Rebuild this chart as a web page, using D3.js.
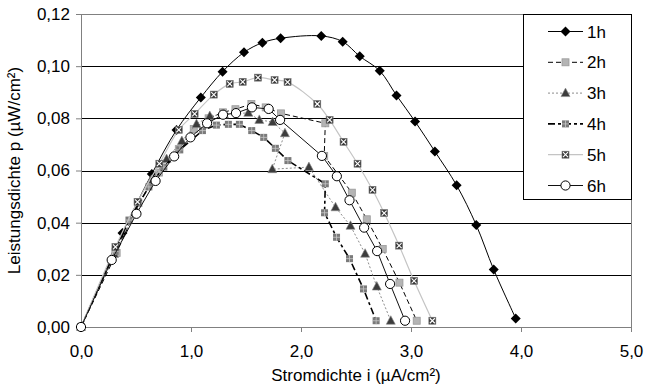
<!DOCTYPE html>
<html>
<head>
<meta charset="utf-8">
<script src="https://cdn.jsdelivr.net/npm/d3@7"></script>
<style>
  body { margin: 0; background: #fff; }
  svg text { font-family: "Liberation Sans", Arial, sans-serif; fill: #000; }
</style>
</head>
<body>
<div id="chart"></div>
<script>
// Leistungsdichte vs. Stromdichte, Messungen nach 1h..6h
var seriesNames = ['1h', '2h', '3h', '4h', '5h', '6h'];

var x1h = [0, 0.377, 0.644, 0.868, 1.089, 1.287, 1.482, 1.649, 1.815, 2.184, 2.379, 2.534, 2.716, 2.868, 3.037, 3.217, 3.415, 3.593, 3.752, 3.952];
var y1h = [0, 0.0360, 0.0587, 0.0755, 0.0880, 0.0979, 0.1053, 0.1090, 0.1107, 0.1116, 0.1094, 0.1038, 0.0982, 0.0888, 0.0788, 0.0673, 0.0543, 0.0391, 0.0220, 0.0033];

var x2h = [0, 0.324, 0.522, 0.708, 0.889, 1.025, 1.160, 1.291, 1.404, 1.549, 1.679, 1.818, 2.221, 2.211, 2.462, 2.598, 2.743, 2.895, 3.052];
var y2h = [0, 0.0284, 0.0475, 0.0592, 0.0682, 0.0759, 0.0800, 0.0823, 0.0835, 0.0855, 0.0842, 0.0819, 0.0781, 0.0656, 0.0515, 0.0413, 0.0299, 0.0170, 0.0024];

var x3h = [0, 0.300, 0.500, 0.641, 0.778, 0.917, 1.050, 1.171, 1.300, 1.521, 1.621, 1.742, 1.854, 1.739, 2.072, 2.314, 2.450, 2.583, 2.689, 2.816];
var y3h = [0, 0.0280, 0.0450, 0.0564, 0.0644, 0.0713, 0.0778, 0.0809, 0.0815, 0.0821, 0.0794, 0.0786, 0.0743, 0.0605, 0.0613, 0.0459, 0.0388, 0.0281, 0.0155, 0.0024];

var x4h = [0, 0.310, 0.436, 0.617, 0.753, 0.898, 1.104, 1.231, 1.340, 1.440, 1.552, 1.661, 1.767, 1.881, 2.221, 2.214, 2.323, 2.441, 2.568, 2.683];
var y4h = [0, 0.0290, 0.0410, 0.0537, 0.0613, 0.0679, 0.0753, 0.0774, 0.0777, 0.0777, 0.0753, 0.0727, 0.0685, 0.0638, 0.0549, 0.0438, 0.0344, 0.0262, 0.0146, 0.0024];

var x5h = [0, 0.313, 0.514, 0.712, 0.889, 1.033, 1.207, 1.352, 1.470, 1.609, 1.760, 1.878, 2.148, 2.260, 2.387, 2.514, 2.650, 2.756, 2.892, 3.028, 3.194];
var y5h = [0, 0.0307, 0.0480, 0.0626, 0.0756, 0.0817, 0.0891, 0.0932, 0.0940, 0.0956, 0.0947, 0.0939, 0.0855, 0.0794, 0.0710, 0.0626, 0.0526, 0.0437, 0.0312, 0.0177, 0.0024];

var x6h = [0, 0.279, 0.504, 0.678, 0.847, 0.995, 1.146, 1.291, 1.409, 1.554, 1.706, 1.810, 2.190, 2.326, 2.441, 2.574, 2.692, 2.810, 2.946];
var y6h = [0, 0.0257, 0.0434, 0.0560, 0.0654, 0.0727, 0.0781, 0.0814, 0.0820, 0.0842, 0.0836, 0.0794, 0.0656, 0.0578, 0.0486, 0.0381, 0.0291, 0.0165, 0.0024];

var xTicks = [0, 1, 2, 3, 4, 5];
var yTicks = [0, 0.02, 0.04, 0.06, 0.08, 0.10, 0.12];
var xTitle = 'Stromdichte i (µA/cm²)';
var yTitle = 'Leistungsdichte p (µW/cm²)';

var xs = [x1h, x2h, x3h, x4h, x5h, x6h];
var ys = [y1h, y2h, y3h, y4h, y5h, y6h];

// look of each series: line + marker (1h and 5h are smoothed like in the original)
var styles = {
  '1h': { stroke: '#000', width: 1, dash: null, marker: 'diamond', smooth: true },
  '2h': { stroke: '#000', width: 1, dash: '5,3', marker: 'square' },
  '3h': { stroke: '#8c8c8c', width: 1, dash: '2,2', marker: 'triangle' },
  '4h': { stroke: '#000', width: 1.6, dash: '7,3,3,3', marker: 'grid' },
  '5h': { stroke: '#c4c4c4', width: 1.2, dash: null, marker: 'cross', smooth: true },
  '6h': { stroke: '#111', width: 1, dash: null, marker: 'circle' }
};

var W = 645, H = 391;
var margin = { top: 14, right: 14, bottom: 64, left: 81 };
var width = W - margin.left - margin.right,
    height = H - margin.top - margin.bottom;

var svg = d3.select('#chart').append('svg')
  .attr('width', W)
  .attr('height', H);

var g = svg.append('g').attr('transform', 'translate(' + margin.left + ',' + margin.top + ')');

var x = d3.scaleLinear().domain([0, 5]).range([0, width]);
var y = d3.scaleLinear().domain([0, 0.12]).range([height, 0]);

var comma = function(f) { return function(d) { return d3.format(f)(d).replace('.', ','); }; };

// gridlines
g.selectAll('.grid').data(yTicks.filter(function(d) { return d > 0 && d < 0.12; }))
  .enter().append('line')
  .attr('x1', 0).attr('x2', width)
  .attr('y1', function(d) { return Math.round(y(d)) + 0.5; })
  .attr('y2', function(d) { return Math.round(y(d)) + 0.5; })
  .attr('stroke', '#000').attr('stroke-width', 1);

// plot frame top/right
g.append('line').attr('x1', 0).attr('x2', width).attr('y1', 0.5).attr('y2', 0.5)
  .attr('stroke', '#808080');
g.append('line').attr('x1', width + 0.5).attr('x2', width + 0.5).attr('y1', 0).attr('y2', height)
  .attr('stroke', '#808080');

// axes
var xAxis = g.append('g').attr('transform', 'translate(0,' + height + ')')
  .call(d3.axisBottom(x).tickValues(xTicks).tickFormat(comma('.1f')).tickSize(5).tickPadding(13));
var yAxis = g.append('g')
  .call(d3.axisLeft(y).tickValues(yTicks).tickFormat(comma('.2f')).tickSize(5).tickPadding(6));
[xAxis, yAxis].forEach(function(a) {
  a.select('.domain').attr('stroke', '#808080');
  a.selectAll('.tick line').attr('stroke', '#808080');
  a.selectAll('text').style('font-size', '17px').attr('fill', '#000');
});

svg.append('text')
  .attr('x', margin.left + width / 2).attr('y', 381)
  .attr('text-anchor', 'middle').style('font-size', '17px')
  .text(xTitle);
svg.append('text')
  .attr('transform', 'translate(20,' + (margin.top + height / 2) + ') rotate(-90)')
  .attr('text-anchor', 'middle').style('font-size', '17px')
  .text(yTitle);

function drawMarker(sel, type) {
  if (type === 'diamond') {
    sel.append('path').attr('d', 'M0,-5L5,0L0,5L-5,0Z').attr('fill', '#000');
  } else if (type === 'square') {
    sel.append('rect').attr('x', -3.5).attr('y', -3.5).attr('width', 7).attr('height', 7)
      .attr('fill', '#b4b4b4').attr('stroke', '#9a9a9a').attr('stroke-width', 0.8);
  } else if (type === 'triangle') {
    sel.append('path').attr('d', 'M0,-5L4.5,3.5L-4.5,3.5Z')
      .attr('fill', '#3c3c3c').attr('stroke', '#8a8a8a').attr('stroke-width', 0.6);
  } else if (type === 'grid') {
    sel.append('rect').attr('x', -3.5).attr('y', -3.5).attr('width', 7).attr('height', 7)
      .attr('fill', '#7a7a7a');
    sel.append('path').attr('d', 'M0,-3.5V3.5M-3.5,0H3.5').attr('stroke', '#c8c8c8').attr('stroke-width', 0.8);
  } else if (type === 'cross') {
    sel.append('rect').attr('x', -3.5).attr('y', -3.5).attr('width', 7).attr('height', 7)
      .attr('fill', '#3a3a3a').attr('stroke', '#777').attr('stroke-width', 0.6);
    sel.append('path').attr('d', 'M-2.5,-2.5L2.5,2.5M-2.5,2.5L2.5,-2.5').attr('stroke', '#fff').attr('stroke-width', 1.1);
  } else if (type === 'circle') {
    sel.append('circle').attr('r', 4.6).attr('fill', '#fff').attr('stroke', '#000').attr('stroke-width', 1);
  }
}

var line = d3.line().x(function(d) { return x(d[0]); }).y(function(d) { return y(d[1]); });
var smoothLine = d3.line().curve(d3.curveCatmullRom.alpha(0.5))
  .x(function(d) { return x(d[0]); }).y(function(d) { return y(d[1]); });

seriesNames.forEach(function(name, i) {
  var pts = d3.zip(xs[i], ys[i]);
  var st = styles[name];
  var s = g.append('g').attr('class', 's' + name);
  s.append('path').datum(pts)
    .attr('d', st.smooth ? smoothLine : line)
    .attr('fill', 'none')
    .attr('stroke', st.stroke)
    .attr('stroke-width', st.width)
    .attr('stroke-dasharray', st.dash);
  s.selectAll('.m').data(pts).enter().append('g')
    .attr('transform', function(d) { return 'translate(' + x(d[0]) + ',' + y(d[1]) + ')'; })
    .each(function() { drawMarker(d3.select(this), st.marker); });
});

// legend box
var lg = svg.append('g').attr('transform', 'translate(523,14)');
lg.append('rect').attr('x', 0.5).attr('y', 0.5).attr('width', 108).attr('height', 185)
  .attr('fill', '#fff').attr('stroke', '#000');
seriesNames.forEach(function(name, i) {
  var st = styles[name];
  var row = lg.append('g').attr('transform', 'translate(0,' + (17.5 + i * 30.8) + ')');
  row.append('line').attr('x1', 25).attr('x2', 60).attr('y1', 0).attr('y2', 0)
    .attr('stroke', st.stroke).attr('stroke-width', st.width).attr('stroke-dasharray', st.dash);
  drawMarker(row.append('g').attr('transform', 'translate(42.5,0)'), st.marker);
  row.append('text').attr('x', 64).attr('y', 6).style('font-size', '17px').text(name);
});
</script>
</body>
</html>
